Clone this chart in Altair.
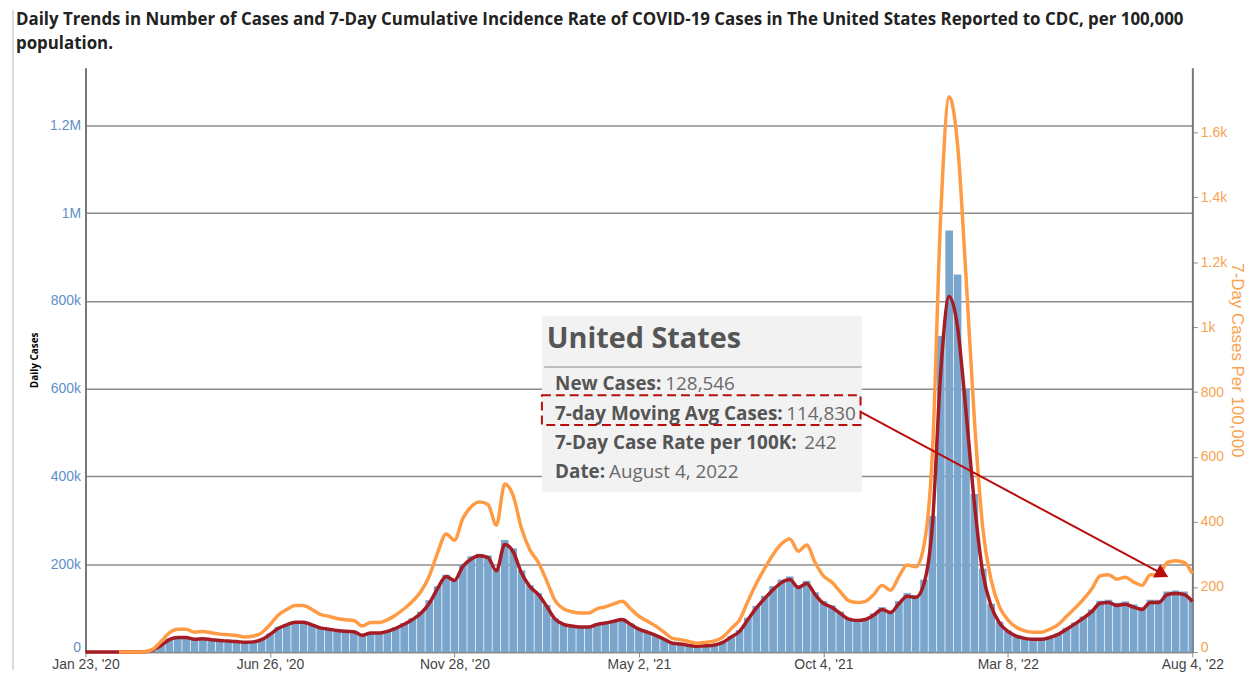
import json
import altair as alt
import pandas as pd

# ---------------- data (weekly samples; day index counted from Jan 23, 2020) ----------------
week_day = list(range(0, 925, 7))  # 133 weekly positions, 0 .. 924

# daily new cases (thousands), weekly samples
daily_cases_k = [
    0, 0, 0, 0, 0, 0, 0.2, 1, 6, 18,
    30, 34, 33, 31, 31, 29, 27, 26, 25, 23,
    24, 30, 42, 57, 64, 70, 69, 64, 57, 53,
    50, 48, 47, 40, 44, 45, 48, 56, 66, 77,
    92, 118, 150, 176, 165, 200, 218, 224, 220, 190,
    255, 236, 186, 152, 134, 107, 77, 65, 61, 59,
    58, 65, 68, 72, 76, 65, 53, 46, 39, 30,
    21, 19, 16, 14, 15, 17, 23, 36, 50, 78,
    105, 128, 150, 165, 172, 152, 162, 136, 116, 106,
    92, 78, 75, 77, 88, 102, 93, 116, 134, 130,
    165, 310, 720, 960, 860, 600, 360, 190, 110, 69,
    49, 38, 33, 30, 30, 35, 42, 55, 67, 81,
    97, 117, 119, 112, 115, 108, 102, 119, 119, 138,
    140, 138, 121,
]

# 7-day moving average of cases (thousands)
avg_cases_k = [
    0, 0, 0, 0, 0, 0, 0.1, 0.5, 4, 15,
    28, 33, 33, 29, 30, 28, 26, 25, 24, 22,
    23, 28, 40, 54, 62, 68, 68, 62, 55, 52,
    49, 47, 46, 38, 43, 43, 47, 54, 63, 74,
    88, 111, 145, 172, 163, 195, 212, 219, 215, 185,
    245, 228, 180, 149, 131, 104, 75, 63, 59, 57,
    57, 63, 66, 70, 74, 63, 52, 45, 38, 29,
    20, 18, 15, 13, 14, 16, 22, 34, 47, 74,
    100, 122, 142, 158, 165, 147, 156, 131, 111, 102,
    88, 75, 72, 74, 84, 97, 90, 110, 127, 124,
    156, 290, 640, 810, 740, 549, 340, 181, 105, 66,
    47, 36, 31, 29, 29, 33, 40, 52, 64, 77,
    92, 111, 113, 106, 109, 102, 97, 113, 113, 131,
    133, 131, 115,
]

# 7-day case rate per 100,000
rate_per_100k = [
    None, None, None, None, 0, 0, 0.2, 1, 8, 32,
    59, 70, 70, 61, 63, 59, 55, 53, 51, 46,
    49, 59, 84, 114, 131, 143, 143, 131, 116, 110,
    103, 99, 97, 80, 91, 91, 99, 114, 133, 156,
    186, 234, 306, 363, 344, 411, 447, 462, 454, 390,
    517, 481, 380, 314, 276, 219, 158, 133, 124, 120,
    120, 133, 139, 148, 156, 133, 110, 95, 80, 61,
    42, 38, 32, 27, 30, 34, 46, 72, 99, 156,
    211, 257, 300, 333, 348, 310, 329, 276, 234, 215,
    186, 158, 152, 156, 177, 205, 190, 232, 268, 262,
    329, 612, 1350, 1709, 1561, 1158, 717, 382, 222, 139,
    99, 76, 65, 61, 61, 70, 84, 110, 135, 162,
    194, 234, 238, 224, 230, 215, 205, 238, 238, 276,
    281, 276, 242,
]

x_tick_days = [0, 154, 308, 462, 616, 770, 924]
x_tick_labels = ["Jan 23, '20", "Jun 26, '20", "Nov 28, '20", "May 2, '21",
                 "Oct 4, '21", "Mar 8, '22", "Aug 4, '22"]
left_ticks = [0, 200000, 400000, 600000, 800000, 1000000, 1200000]
right_ticks = [0, 200, 400, 600, 800, 1000, 1200, 1400, 1600]

title_lines = [
    "Daily Trends in Number of Cases and 7-Day Cumulative Incidence Rate of COVID-19 Cases in The United States Reported to CDC, per 100,000",
    "population.",
]

# tooltip-style annotation (data units: day index, cases)
tip_heading = "United States"
tip_labels = ["New Cases:", "7-day Moving Avg Cases:", "7-Day Case Rate per 100K:", "Date:"]
tip_values = ["128,546", "114,830", "242", "August 4, 2022"]
tip_value_day = [484, 585, 600, 437]
tip_row_cases = [610000, 542000, 477000, 411000]
tip_label_day = 392
tip_heading_pos = (385, 714000)
tip_box = (381, 648, 766000, 364000)
tip_sep = (383, 648, 649000)
highlight_box = (381, 647, 585000, 517000)
arrow_from = (647, 547000)
arrow_to = (899, 178000)

LEFT_MAX = 1331000
RIGHT_MAX = 1798
LAST_DAY = 924

BAR = "#7aa5cc"
RED = "#a51c24"
ORANGE = "#ff9b45"
ORANGE_TXT = "#f7a24f"
BLUE_TXT = "#5d8fc6"
ANNO_RED = "#b80d0d"

df = pd.DataFrame({
    "day": week_day,
    "cases": [v * 1000 for v in daily_cases_k],
    "avg": [v * 1000 for v in avg_cases_k],
    "rate": rate_per_100k,
})

# keep the "0" labels just above the date labels
zero_baseline = {"condition": {"test": "datum.value === 0", "value": "alphabetic"}, "value": "middle"}

# ---------------- scales & axes ----------------
x_scale = alt.Scale(domain=[0, LAST_DAY], nice=False, zero=False)
label_expr = f"{json.dumps(x_tick_labels)}[indexof({json.dumps(x_tick_days)}, datum.value)]"
x_axis = alt.Axis(values=x_tick_days, labelExpr=label_expr, title=None, grid=False,
                  domainColor="#888888", domainWidth=1.5, tickColor="#888888", tickSize=5,
                  labelColor="#444444", labelFontSize=14, labelFont="Liberation Sans",
                  labelPadding=1, labelFlush=False, labelOverlap=False)
left_scale = alt.Scale(domain=[0, LEFT_MAX], nice=False)
left_expr = ("datum.value >= 1000000 ? format(datum.value / 1000000, '~g') + 'M' : "
             "(datum.value > 0 ? format(datum.value / 1000, '~g') + 'k' : '0')")
left_axis = alt.Axis(values=left_ticks, labelExpr=left_expr, title="Daily Cases",
                     titleFont="Liberation Sans Narrow, Open Sans", titleFontSize=10,
                     titleFontWeight="bold", titleColor="#000000", titlePadding=10,
                     labelColor=BLUE_TXT, labelFontSize=14, labelFont="Liberation Sans",
                     labelBaseline=zero_baseline,
                     labelPadding=5, ticks=False, grid=True, gridColor="#8c8c8c",
                     gridWidth=1.5, domainColor="#777777", domainWidth=2)
right_scale = alt.Scale(domain=[0, RIGHT_MAX], nice=False)
right_expr = ("datum.value >= 1000 ? format(datum.value / 1000, '~g') + 'k' : "
              "format(datum.value, 'd')")
right_axis = alt.Axis(orient="right", values=right_ticks, labelExpr=right_expr,
                      title="7-Day Cases Per 100,000", titleColor=ORANGE_TXT,
                      titleFontSize=17, titleFont="Liberation Sans", titleFontWeight="normal",
                      titlePadding=1, labelColor=ORANGE_TXT, labelFontSize=14,
                      labelFont="Liberation Sans", labelBaseline=zero_baseline,
                      labelPadding=3, grid=False,
                      domainColor="#777777", domainWidth=2, tickColor="#888888", tickSize=5)

# ---------------- left (cases) layer ----------------
bars = alt.Chart(df).transform_calculate(
    d0="datum.day - 3.2", d1="datum.day + 3.2"
).mark_bar(color=BAR, clip=True).encode(
    x=alt.X("d0:Q", scale=x_scale, axis=x_axis),
    x2="d1:Q",
    y=alt.Y("cases:Q", scale=left_scale, axis=left_axis),
    y2=alt.datum(0),
)
red_line = alt.Chart(df).mark_line(color=RED, strokeWidth=3.5, interpolate="monotone").encode(
    x=alt.X("day:Q", scale=x_scale, axis=x_axis),
    y=alt.Y("avg:Q", scale=left_scale, axis=left_axis),
)
left = alt.layer(bars, red_line)

# ---------------- right (rate) layer ----------------
orange_line = alt.Chart(df).transform_filter("isValid(datum.rate)").mark_line(
    color=ORANGE, strokeWidth=3.5, interpolate="monotone"
).encode(
    x=alt.X("day:Q", scale=x_scale, axis=x_axis),
    y=alt.Y("rate:Q", scale=right_scale, axis=right_axis),
)

# ---------------- annotation layer ----------------
ax = dict(scale=x_scale, axis=x_axis)
ay_scale = alt.Scale(domain=[0, LEFT_MAX], nice=False)
TIP_FONT = "Open Sans"

box = alt.Chart(pd.DataFrame({"x": [tip_box[0]], "x2": [tip_box[1]],
                              "y": [tip_box[2]], "y2": [tip_box[3]]})).mark_rect(
    color="#f2f2f2").encode(
    x=alt.X("x:Q", **ax), x2="x2:Q",
    y=alt.Y("y:Q", scale=ay_scale, axis=None), y2="y2:Q")
sep = alt.Chart(pd.DataFrame({"x": [tip_sep[0]], "x2": [tip_sep[1]], "y": [tip_sep[2]]})).mark_rule(
    color="#bdbdbd", strokeWidth=2).encode(
    x=alt.X("x:Q", **ax), x2="x2:Q", y=alt.Y("y:Q", scale=ay_scale, axis=None))
heading = alt.Chart(pd.DataFrame({"t": [tip_heading], "x": [tip_heading_pos[0]],
                                  "y": [tip_heading_pos[1]]})).mark_text(
    align="left", baseline="middle", font=TIP_FONT, fontSize=29, fontWeight="bold",
    color="#555555").encode(
    x=alt.X("x:Q", **ax), y=alt.Y("y:Q", scale=ay_scale, axis=None), text="t:N")
labels = alt.Chart(pd.DataFrame({"t": tip_labels, "x": [tip_label_day] * 4,
                                 "y": tip_row_cases})).mark_text(
    align="left", baseline="middle", font=TIP_FONT, fontSize=19, fontWeight="bold",
    color="#555555").encode(
    x=alt.X("x:Q", **ax), y=alt.Y("y:Q", scale=ay_scale, axis=None), text="t:N")
values = alt.Chart(pd.DataFrame({"t": tip_values, "x": tip_value_day,
                                 "y": tip_row_cases})).mark_text(
    align="left", baseline="middle", font=TIP_FONT, fontSize=19, fontWeight="normal",
    color="#6a6a6a").encode(
    x=alt.X("x:Q", **ax), y=alt.Y("y:Q", scale=ay_scale, axis=None), text="t:N")
hl = alt.Chart(pd.DataFrame({"x": [highlight_box[0]], "x2": [highlight_box[1]],
                             "y": [highlight_box[2]], "y2": [highlight_box[3]]})).mark_rect(
    fillOpacity=0, stroke=ANNO_RED, strokeWidth=2, strokeDash=[9, 5]).encode(
    x=alt.X("x:Q", **ax), x2="x2:Q",
    y=alt.Y("y:Q", scale=ay_scale, axis=None), y2="y2:Q")
arrow = alt.Chart(pd.DataFrame({"x": [arrow_from[0]], "x2": [arrow_to[0]],
                                "y": [arrow_from[1]], "y2": [arrow_to[1]]})).mark_rule(
    color=ANNO_RED, strokeWidth=2).encode(
    x=alt.X("x:Q", **ax), x2="x2:Q",
    y=alt.Y("y:Q", scale=ay_scale, axis=None), y2="y2:Q")
head = alt.Chart(pd.DataFrame({"x": [arrow_to[0]], "y": [arrow_to[1]]})).mark_point(
    shape="triangle-right", filled=True, size=230, angle=28, color=ANNO_RED, opacity=1).encode(
    x=alt.X("x:Q", **ax), y=alt.Y("y:Q", scale=ay_scale, axis=None))
# faint frame line on the left of the panel (as in the source page)
frame_line = alt.Chart(pd.DataFrame({"a": [0]})).mark_rule(color="#dadada", strokeWidth=2).encode(
    x=alt.value(-73), y=alt.value(-58), y2=alt.value(606))

annot = alt.layer(frame_line, box, sep, heading, labels, values, hl, arrow, head)

chart = alt.layer(left, orange_line, annot).resolve_scale(y="independent").properties(
    width=1114, height=588,
    padding={"left": 78, "top": 58, "right": 56, "bottom": 18},
    autosize=alt.AutoSizeParams(type="none"),
    title=alt.TitleParams(text=title_lines, anchor="start", frame="group", dx=-70,
                          offset=18, dy=62, fontSize=17, font="Open Sans", fontWeight="bold",
                          color="#222222", lineHeight=24),
).configure_view(stroke=None)

chart.save("out.html", embed_options={"renderer": "svg", "actions": False})
